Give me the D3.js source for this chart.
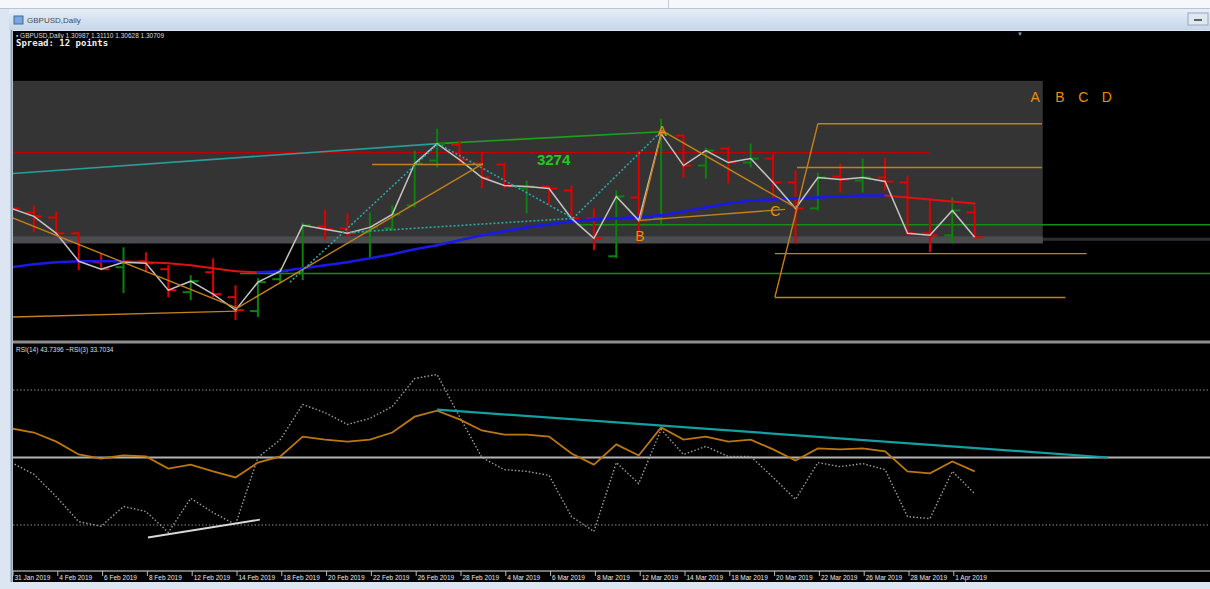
<!DOCTYPE html>
<html>
<head>
<meta charset="utf-8">
<script src="https://cdn.jsdelivr.net/npm/d3@7"></script>
<style>
  body { margin: 0; background: #dce6f2; overflow: hidden; }
  svg { display: block; }
  text { font-family: "Liberation Sans", Arial, sans-serif; }
</style>
</head>
<body>
<div id="chart-area"></div>
<script>
// GBPUSD daily + RSI, MT4 style window

const dates = ["31 Jan 2019","1 Feb 2019","4 Feb 2019","5 Feb 2019","6 Feb 2019","7 Feb 2019","8 Feb 2019",
  "11 Feb 2019","12 Feb 2019","13 Feb 2019","14 Feb 2019","15 Feb 2019","18 Feb 2019","19 Feb 2019","20 Feb 2019",
  "21 Feb 2019","22 Feb 2019","25 Feb 2019","26 Feb 2019","27 Feb 2019","28 Feb 2019","1 Mar 2019","4 Mar 2019",
  "5 Mar 2019","6 Mar 2019","7 Mar 2019","8 Mar 2019","11 Mar 2019","12 Mar 2019","13 Mar 2019","14 Mar 2019",
  "15 Mar 2019","18 Mar 2019","19 Mar 2019","20 Mar 2019","21 Mar 2019","22 Mar 2019","25 Mar 2019","26 Mar 2019",
  "27 Mar 2019","28 Mar 2019","29 Mar 2019","1 Apr 2019","2 Apr 2019"]

const opens = [1.3200,1.3164,1.3149,1.3101,1.3014,1.2999,1.3017,1.2993,1.2924,1.2984,1.2909,1.2867,1.2963,1.2981,
  1.3122,1.3116,1.3104,1.3116,1.3185,1.3320,1.3368,1.3311,1.3308,1.3236,1.3242,1.3230,1.3146,1.3032,1.3209,1.3146,
  1.3395,1.3305,1.3356,1.3314,1.3326,1.3254,1.3176,1.3272,1.3260,1.3269,1.3254,1.3101,1.3095,1.3164]
const highs = [1.3212,1.3185,1.3167,1.3104,1.3041,1.3059,1.3044,1.3005,1.2975,1.3026,1.2945,1.2966,1.2996,1.3134,
  1.3173,1.3161,1.3164,1.3185,1.3350,1.3416,1.3380,1.3344,1.3314,1.3260,1.3245,1.3245,1.3176,1.3230,1.3350,1.3446,
  1.3398,1.3359,1.3362,1.3371,1.3341,1.3290,1.3284,1.3311,1.3326,1.3329,1.3275,1.3206,1.3209,1.3185]
const lows = [1.3164,1.3104,1.3098,1.2990,1.2990,1.2921,1.2984,1.2909,1.2900,1.2909,1.2840,1.2849,1.2951,1.2960,
  1.3080,1.3089,1.3029,1.3110,1.3179,1.3299,1.3311,1.3236,1.3236,1.3161,1.3188,1.3140,1.3050,1.3026,1.3071,1.3125,
  1.3269,1.3266,1.3251,1.3299,1.3206,1.3071,1.3170,1.3224,1.3224,1.3230,1.3095,1.3044,1.3071,1.3086]
const closes = [1.3176,1.3152,1.3101,1.3017,1.2993,1.3014,1.3011,1.2930,1.2957,1.2918,1.2870,1.2954,1.2987,1.3125,
  1.3113,1.3101,1.3119,1.3158,1.3311,1.3371,1.3323,1.3269,1.3245,1.3242,1.3236,1.3146,1.3086,1.3212,1.3140,1.3401,
  1.3305,1.3350,1.3314,1.3326,1.3254,1.3176,1.3269,1.3263,1.3269,1.3257,1.3101,1.3095,1.3170,1.3089]

// moving average (blue rising / red falling)
const maValues = [1.2999,1.3008,1.3014,1.3017,1.3017,1.3017,1.3014,1.3011,1.3005,1.2996,1.2987,1.2984,1.2987,1.2996,
  1.3005,1.3014,1.3026,1.3038,1.3053,1.3065,1.3080,1.3095,1.3107,1.3119,1.3128,1.3137,1.3143,1.3146,1.3149,1.3155,
  1.3167,1.3179,1.3191,1.3200,1.3203,1.3206,1.3209,1.3212,1.3215,1.3215,1.3209,1.3203,1.3197,1.3191]

const rsi14 = [58.6,57.4,54.7,50.9,49.7,50.6,50.3,46.7,47.9,45.9,44.1,48.5,50.3,56.2,55.3,54.7,55.3,57.4,62.1,63.9,
  61.3,58.0,56.8,56.8,56.2,51.2,47.9,53.9,50.6,58.9,55.3,56.2,54.7,55.3,52.4,49.1,52.7,52.4,52.7,51.8,45.9,45.3,48.8,45.9]
const rsi3 = [48.5,45.0,38.4,31.0,29.6,35.5,34.0,27.8,37.9,33.7,30.1,50.0,55.3,65.7,63.3,59.8,61.6,65.1,73.4,74.6,
  62.1,50.0,46.4,45.9,44.7,32.5,28.1,48.5,42.3,58.3,50.9,53.3,50.3,50.3,44.1,37.6,48.5,47.3,48.2,46.4,32.5,31.9,45.9,39.3]
const rsiLevels = [70, 50, 30]

// drawing objects: [bar index, price] anchors
const rangeBox = [[-1, 1.3560], [46.04, 1.3071]]
const rangeBand = [[-1, 1.3092], [46.04, 1.3071]]
const bidPrice = 1.3083
const redLevel = [[-1, 1.3344], [41, 1.3344]]
const tealTrend = [[0, 1.3281], [19.04, 1.3371]]
const greenTrend = [[19.04, 1.3371], [29.04, 1.3407]]
const greenLevels = [[[25.25, 1.3127], [56, 1.3127]], [[10.2, 1.2980], [56, 1.2980]]]
const orangeLines = [
  [[0, 1.3149], [10.07, 1.2876]],
  [[10.07, 1.2876], [21.05, 1.3311]],
  [[16.1, 1.3308], [21.05, 1.3308]],
  [[0, 1.2849], [10.07, 1.2867]],
  [[28.06, 1.3140], [29.04, 1.3410]],
  [[29.04, 1.3410], [35.07, 1.3176]],
  [[28.06, 1.3140], [34.53, 1.3173]],
  [[34.08, 1.2909], [36.0, 1.3431]],
  [[36.0, 1.3431], [46, 1.3431]],
  [[35.07, 1.3299], [46, 1.3299]],
  [[34.08, 1.3040], [48.0, 1.3040]],
  [[34.08, 1.2908], [47.05, 1.2908]]
]
const tealDotted = [
  [[12.43, 1.2954], [19.04, 1.3371]],
  [[19.04, 1.3371], [25.07, 1.3146]],
  [[25.07, 1.3146], [29.04, 1.3410]],
  [[15.1, 1.3104], [25.07, 1.3146]]
]
const patternLabels = [
  { t: "A", at: [29.04, 1.3410] }, { t: "B", at: [28.06, 1.3092] }, { t: "C", at: [34.1, 1.3167] },
  { t: "A", at: [45.7, 1.3512] }, { t: "B", at: [46.8, 1.3512] }, { t: "C", at: [47.85, 1.3512] }, { t: "D", at: [48.9, 1.3512] }
]
const countLabel = { t: "3274", at: [24.2, 1.3326] }
const rsiTealTrend = [[19.0, 64.2], [48.95, 50.0]]
const rsiWhiteTrend = [[6.09, 26.3], [11.09, 31.6]]

const WIDTH = 1210, HEIGHT = 589
const PANE = { LEFT: 13, RIGHT: 1210, TOP: 31, MAIN_BOTTOM: 340, RSI_TOP: 344, RSI_BOTTOM: 570, BOTTOM: 582 }

const svg = d3.select("#chart-area").append("svg")
  .attr("width", WIDTH)
  .attr("height", HEIGHT)

// window frame
svg.append("rect").attr("width", WIDTH).attr("height", 8).attr("fill", "#f5f7fa")
svg.append("line").attr("x1", 668.5).attr("x2", 668.5).attr("y1", 0).attr("y2", 8).attr("stroke", "#c4ccd6")
svg.append("line").attr("x1", 0).attr("x2", WIDTH).attr("y1", 8.5).attr("y2", 8.5).attr("stroke", "#b8c4d2")
const grad = svg.append("defs").append("linearGradient").attr("id", "title-grad")
  .attr("x1", 0).attr("x2", 0).attr("y1", 0).attr("y2", 1)
grad.append("stop").attr("offset", "0%").attr("stop-color", "#e6eef8")
grad.append("stop").attr("offset", "100%").attr("stop-color", "#c6d6ea")
svg.append("rect").attr("x", 9).attr("y", 9).attr("width", WIDTH - 9).attr("height", 21).attr("fill", "url(#title-grad)")
svg.append("rect").attr("x", 14).attr("y", 16).attr("width", 9).attr("height", 8).attr("fill", "#7aa6d8").attr("stroke", "#3a6aa8")
svg.append("text").attr("x", 27).attr("y", 23).attr("font-size", "8px").attr("fill", "#4a4a4a").text("GBPUSD,Daily")
svg.append("rect").attr("x", 1188).attr("y", 13).attr("width", 20).attr("height", 12)
  .attr("fill", "#dfe7f1").attr("stroke", "#9aa8b8")
svg.append("line").attr("x1", 1194).attr("x2", 1202).attr("y1", 20).attr("y2", 20).attr("stroke", "#333").attr("stroke-width", 1.5)

svg.append("rect").attr("x", PANE.LEFT).attr("y", PANE.TOP)
  .attr("width", PANE.RIGHT - PANE.LEFT).attr("height", PANE.BOTTOM - PANE.TOP).attr("fill", "#000")
svg.append("line").attr("x1", 11.5).attr("x2", 11.5).attr("y1", 30).attr("y2", PANE.BOTTOM).attr("stroke", "#8d9bab").attr("stroke-width", 2)

const defs = svg.select("defs")
defs.append("clipPath").attr("id", "clip-main").append("rect")
  .attr("x", PANE.LEFT).attr("y", PANE.TOP).attr("width", PANE.RIGHT - PANE.LEFT).attr("height", PANE.MAIN_BOTTOM - PANE.TOP)
defs.append("clipPath").attr("id", "clip-rsi").append("rect")
  .attr("x", PANE.LEFT).attr("y", PANE.RSI_TOP).attr("width", PANE.RIGHT - PANE.LEFT).attr("height", PANE.RSI_BOTTOM - PANE.RSI_TOP)

// scales
const x = d3.scaleLinear().domain([0, dates.length - 1]).range([11.5, 974.7])
const y = d3.scaleLinear().domain([1.2780, 1.3710]).range([PANE.MAIN_BOTTOM, PANE.TOP])
const yR = d3.scaleLinear().domain([30, 70]).range([525, 390])

const main = svg.append("g").attr("clip-path", "url(#clip-main)")
const rsiG = svg.append("g").attr("clip-path", "url(#clip-rsi)")

const seg = (g, pts, sy) => g.append("line")
  .attr("x1", x(pts[0][0])).attr("y1", sy(pts[0][1]))
  .attr("x2", x(pts[1][0])).attr("y2", sy(pts[1][1]))

// bid line, then range box over it
main.append("line").attr("x1", PANE.LEFT).attr("x2", PANE.RIGHT)
  .attr("y1", y(bidPrice)).attr("y2", y(bidPrice)).attr("stroke", "#2c3036").attr("stroke-width", 3)
main.append("rect")
  .attr("x", x(rangeBox[0][0])).attr("y", y(rangeBox[0][1]))
  .attr("width", x(rangeBox[1][0]) - x(rangeBox[0][0])).attr("height", y(rangeBox[1][1]) - y(rangeBox[0][1]))
  .attr("fill", "#343434")
main.append("rect")
  .attr("x", x(rangeBand[0][0])).attr("y", y(rangeBand[0][1]))
  .attr("width", x(rangeBand[1][0]) - x(rangeBand[0][0])).attr("height", y(rangeBand[1][1]) - y(rangeBand[0][1]))
  .attr("fill", "#4a4c50")

seg(main, redLevel, y).attr("stroke", "#c00000").attr("stroke-width", 1.2)
seg(main, tealTrend, y).attr("stroke", "#2a9c9c").attr("stroke-width", 1.6)
seg(main, greenTrend, y).attr("stroke", "#1e9e1e").attr("stroke-width", 1.6)
greenLevels.forEach(l => seg(main, l, y).attr("stroke", "#178a17").attr("stroke-width", 1.6))

// OHLC bars
const barData = dates.map((d, i) => ({ i, o: opens[i], h: highs[i], l: lows[i], c: closes[i] }))
const bars = main.append("g").selectAll("g").data(barData).join("g")
  .attr("stroke", d => d.c >= d.o ? "#0c820c" : "#e00000")
  .attr("stroke-width", 2)
bars.append("line")
  .attr("x1", d => x(d.i)).attr("x2", d => x(d.i))
  .attr("y1", d => y(d.h)).attr("y2", d => y(d.l))
bars.append("line")
  .attr("x1", d => x(d.i) - 8).attr("x2", d => x(d.i))
  .attr("y1", d => y(d.o)).attr("y2", d => y(d.o))
bars.append("line")
  .attr("x1", d => x(d.i)).attr("x2", d => x(d.i) + 8)
  .attr("y1", d => y(d.c)).attr("y2", d => y(d.c))

// moving average, coloured by direction
main.append("g").selectAll("line").data(d3.pairs(maValues.map((v, i) => [i, v]))).join("line")
  .attr("x1", d => x(d[0][0])).attr("y1", d => y(d[0][1]))
  .attr("x2", d => x(d[1][0])).attr("y2", d => y(d[1][1]))
  .attr("stroke", d => d[1][1] < d[0][1] ? "#e01010" : "#1a1ae6")
  .attr("stroke-width", d => d[1][1] < d[0][1] ? 2 : 2.6)
  .attr("stroke-linecap", "round")

// close line
const closeLine = d3.line().x((d, i) => x(i)).y(d => y(d))
main.append("path").attr("d", closeLine(closes))
  .attr("fill", "none").attr("stroke", "#c4c4c4").attr("stroke-width", 1.5)

orangeLines.forEach(l => seg(main, l, y).attr("stroke", "#c4801a").attr("stroke-width", 1.4))
tealDotted.forEach(l => seg(main, l, y).attr("stroke", "#2aa6a6").attr("stroke-width", 1.6).attr("stroke-dasharray", "2,2"))

main.selectAll(".plabel").data(patternLabels).join("text")
  .attr("x", d => x(d.at[0])).attr("y", d => y(d.at[1]) + 5)
  .attr("text-anchor", "middle").attr("font-size", "14px").attr("fill", "#e8900a")
  .text(d => d.t)
main.append("text")
  .attr("x", x(countLabel.at[0])).attr("y", y(countLabel.at[1]) + 6)
  .attr("text-anchor", "middle").attr("font-size", "15px").attr("font-weight", "bold").attr("fill", "#22c822")
  .text(countLabel.t)

// header texts
svg.append("text").attr("x", 16).attr("y", 38).attr("font-size", "6.5px").attr("fill", "#ddd")
  .text("▪ GBPUSD,Daily  1.30987 1.31110 1.30628 1.30709")
svg.append("text").attr("x", 16).attr("y", 46).attr("font-size", "9px").attr("font-weight", "bold")
  .style("font-family", "'DejaVu Sans Mono', monospace").attr("fill", "#eee")
  .text("Spread: 12 points")
svg.append("text").attr("x", 1020).attr("y", 36).attr("font-size", "6px").attr("fill", "#8a9aaa")
  .attr("text-anchor", "middle").text("▼")

// pane separator
svg.append("rect").attr("x", PANE.LEFT).attr("y", 340.5).attr("width", PANE.RIGHT - PANE.LEFT).attr("height", 3)
  .attr("fill", "#8e8e8e")

// RSI pane
rsiG.selectAll(".lvl").data(rsiLevels).join("line")
  .attr("x1", PANE.LEFT).attr("x2", PANE.RIGHT)
  .attr("y1", d => yR(d)).attr("y2", d => yR(d))
  .attr("stroke", d => d === 50 ? "#b4b4b4" : "#8a8a8a")
  .attr("stroke-width", d => d === 50 ? 2 : 1.2)
  .attr("stroke-dasharray", d => d === 50 ? null : "1.5,2")

const rsiLine = d3.line().x((d, i) => x(i)).y(d => yR(d))
rsiG.append("path").attr("d", rsiLine(rsi3))
  .attr("fill", "none").attr("stroke", "#9c9c9c").attr("stroke-width", 1.4).attr("stroke-dasharray", "1.5,2")
rsiG.append("path").attr("d", rsiLine(rsi14))
  .attr("fill", "none").attr("stroke", "#bc780e").attr("stroke-width", 1.8)
seg(rsiG, rsiTealTrend, yR).attr("stroke", "#14a0a0").attr("stroke-width", 2.2)
seg(rsiG, rsiWhiteTrend, yR).attr("stroke", "#d8d8d8").attr("stroke-width", 1.8)

svg.append("text").attr("x", 16).attr("y", 352).attr("font-size", "6.5px").attr("fill", "#ddd")
  .text("RSI(14) 43.7396  ~RSI(3) 33.7034")

// time axis
svg.append("line").attr("x1", PANE.LEFT).attr("x2", PANE.RIGHT).attr("y1", 571).attr("y2", 571)
  .attr("stroke", "#9a9a9a").attr("stroke-width", 1.5)
const tickIdx = dates.map((d, i) => i).filter(i => i % 2 === 0)
const axis = svg.append("g").attr("clip-path", "url(#clip-axis)")
defs.append("clipPath").attr("id", "clip-axis").append("rect")
  .attr("x", PANE.LEFT).attr("y", 571).attr("width", PANE.RIGHT - PANE.LEFT).attr("height", 12)
axis.selectAll("line").data(tickIdx).join("line")
  .attr("x1", d => x(d) + 1.5).attr("x2", d => x(d) + 1.5).attr("y1", 571).attr("y2", 576)
  .attr("stroke", "#bbb")
axis.selectAll("text").data(tickIdx).join("text")
  .attr("x", d => Math.max(x(d) + 3, 14)).attr("y", 579.5)
  .attr("font-size", "6.5px").attr("fill", "#e8e8e8")
  .text(d => dates[d])
</script>
</body>
</html>
